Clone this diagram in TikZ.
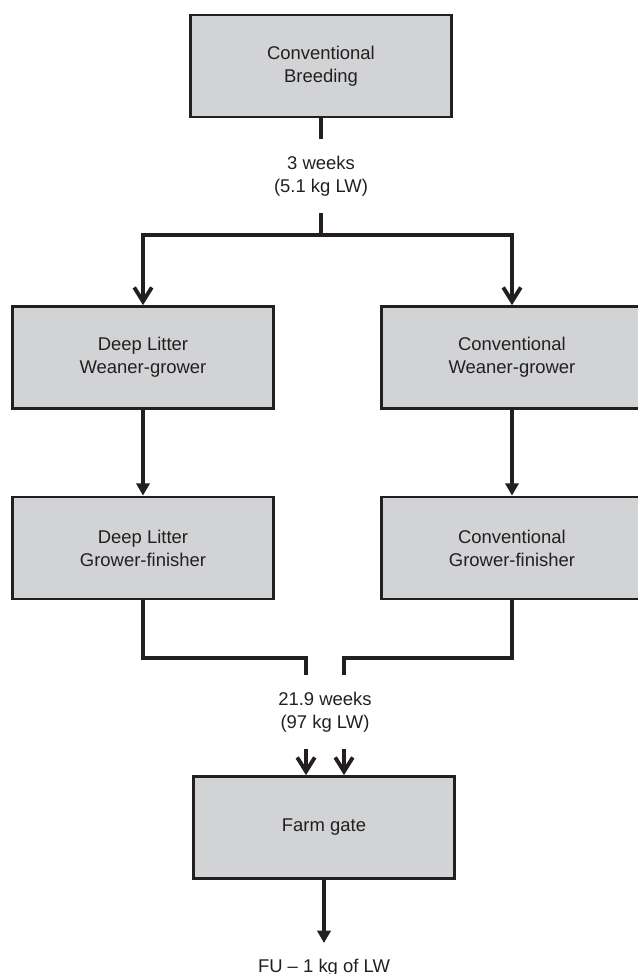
\documentclass[tikz,border=0pt]{standalone}
\usepackage{fontspec}
\setmainfont{Liberation Sans}
\usetikzlibrary{arrows.meta}
\definecolor{boxgray}{RGB}{210,211,213}
\definecolor{ink}{RGB}{35,31,32}

\begin{document}
\begin{tikzpicture}[x=0.02cm,y=-0.02cm,
	box/.style={draw=ink, fill=boxgray, line width=1.6pt, minimum width=5.22cm, minimum height=2.04cm, align=center, text=ink, font=\fontsize{10.5}{13}\selectfont},
	lbl/.style={align=center, text=ink, inner sep=0pt, font=\fontsize{10.5}{13}\selectfont},
	link/.style={draw=ink, line width=2.2pt},
	barb/.style={link, -{Straight Barb[length=8pt,width=10pt]}},
	tri/.style={link, -{Triangle[length=7pt,width=7.5pt]}}]
				%%%%% START %%%%%
				\def\xl{143}
				\def\xr{512}
				\def\xm{321}
				\def\xg{324}
				\useasboundingbox (0,0) rectangle (638,974);
				
				\node[box] (breed) at (\xm,66) {Conventional\\Breeding};
				\node[lbl, minimum height=1.46cm] (wean) at (\xm,176) {3 weeks\\(5.1 kg LW)};
				\coordinate (split) at (\xm,235);
				
				\node[box] (dlwg) at (\xl,357.5) {Deep Litter\\Weaner-grower};
				\node[box] (cwg) at (\xr,357.5) {Conventional\\Weaner-grower};
				\node[box] (dlgf) at (\xl,548) {Deep Litter\\Grower-finisher};
				\node[box] (cgf) at (\xr,548) {Conventional\\Grower-finisher};
				
				\node[lbl, minimum height=1.48cm] (fin) at (325,712) {21.9 weeks\\(97 kg LW)};
				\coordinate (jl) at (306,658);
				\coordinate (jr) at (344,658);
				
				\node[box] (gate) at (\xg,827.5) {Farm gate};
				\node[lbl, anchor=north, inner ysep=9pt] (fu) at (\xg,943) {FU – 1 kg of LW};
				
				\draw[link] (breed.south) -- (wean.north);
				\draw[link] (wean.south) -- (split);
				\draw[barb] (split) -| (dlwg.north);
				\draw[barb] (split) -| (cwg.north);
				
				\draw[tri] (dlwg.south) -- (dlgf.north);
				\draw[tri] (cwg.south) -- (cgf.north);
				
				\draw[link] (dlgf.south) |- (jl) -- (jl |- fin.north);
				\draw[link] (cgf.south) |- (jr) -- (jr |- fin.north);
				\draw[barb] (jl |- fin.south) -- (jl |- gate.north);
				\draw[barb] (jr |- fin.south) -- (jr |- gate.north);
				
				\draw[tri] (gate.south) -- (fu.north);
				%%%%% END %%%%%
\end{tikzpicture}
\end{document}
